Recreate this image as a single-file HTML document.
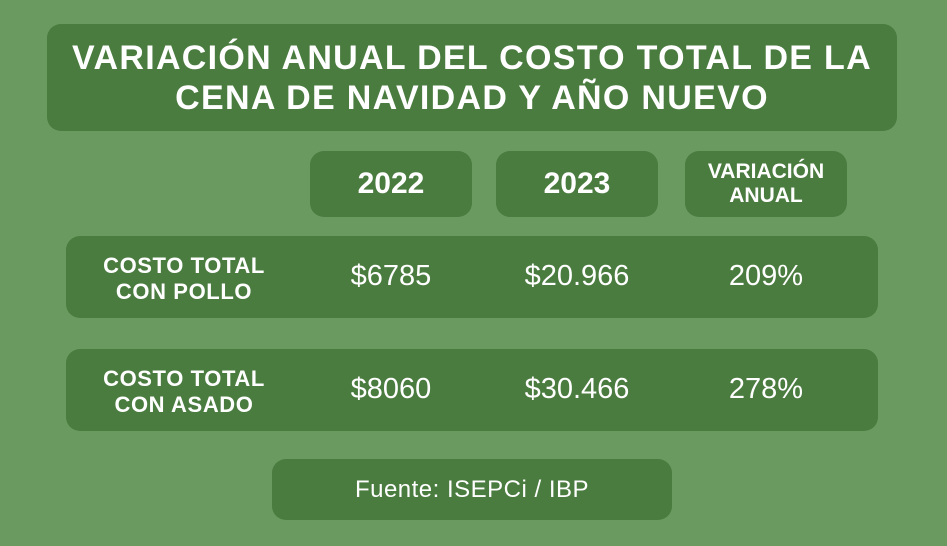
<!DOCTYPE html>
<html><head><meta charset="utf-8"><style>
body{margin:0;width:947px;height:546px;background:#6a9a5f;position:relative;overflow:hidden;font-family:"Liberation Sans","DejaVu Sans",sans-serif;color:#fff}
.b{position:absolute;background:#4a7b3f;border-radius:14px;display:flex;align-items:center;justify-content:center;text-align:center;font-weight:bold}
.t{position:absolute;font-size:29px;text-align:center;width:160px}
.l{position:absolute;font-size:22px;font-weight:bold;text-align:center;line-height:26px;width:200px;letter-spacing:0.6px}
</style></head><body>
<div class="b" style="left:47px;top:24px;width:850px;height:107px;font-size:34px;line-height:40px;letter-spacing:1.3px">VARIACIÓN ANUAL DEL COSTO TOTAL DE LA<br>CENA DE NAVIDAD Y AÑO NUEVO</div>
<div class="b" style="left:310px;top:151px;width:162px;height:66px;font-size:30px">2022</div>
<div class="b" style="left:496px;top:151px;width:162px;height:66px;font-size:30px">2023</div>
<div class="b" style="left:685px;top:151px;width:162px;height:66px;font-size:21px;line-height:24px">VARIACIÓN<br>ANUAL</div>
<div class="b" style="left:66px;top:236px;width:812px;height:82px"></div>
<div class="b" style="left:66px;top:349px;width:812px;height:82px"></div>
<div class="l" style="left:84px;top:253px">COSTO TOTAL<br>CON POLLO</div>
<div class="l" style="left:84px;top:366px">COSTO TOTAL<br>CON ASADO</div>
<div class="t" style="left:311px;top:260px">$6785</div>
<div class="t" style="left:497px;top:260px">$20.966</div>
<div class="t" style="left:686px;top:260px">209%</div>
<div class="t" style="left:311px;top:373px">$8060</div>
<div class="t" style="left:497px;top:373px">$30.466</div>
<div class="t" style="left:686px;top:373px">278%</div>
<div class="b" style="left:272px;top:459px;width:400px;height:61px;font-size:24px;font-weight:normal;letter-spacing:0.5px">Fuente: ISEPCi / IBP</div>
</body></html>
